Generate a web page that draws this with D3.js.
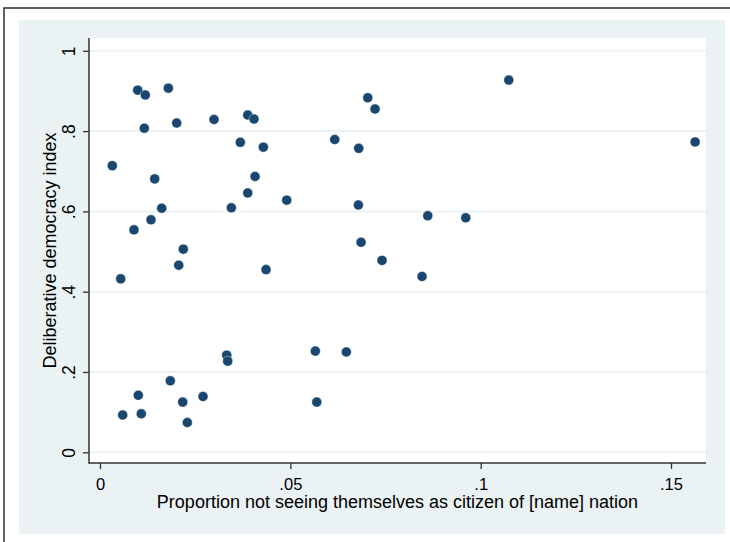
<!DOCTYPE html>
<html>
<head>
<meta charset="utf-8">
<script src="https://cdn.jsdelivr.net/npm/d3@7"></script>
<style>
  html, body { margin: 0; padding: 0; background: #ffffff; }
  svg { display: block; }
  text { font-family: "Liberation Sans", Arial, sans-serif; fill: #000; }
</style>
</head>
<body>
<svg id="chart" width="730" height="542"></svg>
<script>
// ---- data ----
const xValues = [0.00323, 0.00544, 0.00596, 0.00893, 0.00991, 0.01006, 0.01085, 0.01164, 0.01190, 0.01340,
  0.01437, 0.01621, 0.01795, 0.01847, 0.02015, 0.02068, 0.02173, 0.02189, 0.02294, 0.02706,
  0.02995, 0.03329, 0.03355, 0.03450, 0.03686, 0.03881, 0.03881, 0.04046, 0.04073, 0.04291,
  0.04362, 0.04905, 0.05657, 0.05694, 0.06167, 0.06471, 0.06797, 0.06787, 0.06858, 0.07034,
  0.07225, 0.07409, 0.08460, 0.08610, 0.09608, 0.10738, 0.15633];
const yValues = [0.714, 0.432, 0.093, 0.554, 0.902, 0.142, 0.096, 0.807, 0.890, 0.579,
  0.681, 0.608, 0.907, 0.178, 0.820, 0.466, 0.125, 0.506, 0.074, 0.139,
  0.829, 0.242, 0.227, 0.609, 0.772, 0.840, 0.646, 0.830, 0.687, 0.760,
  0.455, 0.628, 0.252, 0.125, 0.779, 0.250, 0.757, 0.616, 0.523, 0.883,
  0.855, 0.478, 0.438, 0.589, 0.584, 0.927, 0.773];
const xTicks = [0, 0.05, 0.1, 0.15];
const xTickLabels = ["0", ".05", ".1", ".15"];
const yTicks = [0, 0.2, 0.4, 0.6, 0.8, 1];
const yTickLabels = ["0", ".2", ".4", ".6", ".8", "1"];
const xTitle = "Proportion not seeing themselves as citizen of [name] nation";
const yTitle = "Deliberative democracy index";

// ---- layout ----
const svg = d3.select("#chart");
const plot = { left: 89, right: 706, top: 38, bottom: 463 };

// outer frame
svg.append("rect").attr("x", 4).attr("y", 8).attr("width", 760).attr("height", 580)
  .attr("fill", "#ffffff").attr("stroke", "#3a3a3a").attr("stroke-width", 1.6);
// graph region
svg.append("rect").attr("x", 19).attr("y", 20).attr("width", 706).attr("height", 514)
  .attr("fill", "#eaf2f3");
// plot region
svg.append("rect").attr("x", plot.left).attr("y", plot.top)
  .attr("width", plot.right - plot.left).attr("height", plot.bottom - plot.top)
  .attr("fill", "#ffffff");

const x = d3.scaleLinear().domain([0, 0.15]).range([100, 671]);
const y = d3.scaleLinear().domain([0, 1]).range([452.3, 50.8]);

// gridlines
svg.append("g").selectAll("line").data(yTicks).join("line")
  .attr("x1", plot.left).attr("x2", plot.right)
  .attr("y1", d => y(d)).attr("y2", d => y(d))
  .attr("stroke", "#eaf2f3").attr("stroke-width", 2);

// y axis
const yAxis = d3.axisLeft(y).tickValues(yTicks).tickSize(6)
  .tickFormat((d, i) => yTickLabels[i]);
const gy = svg.append("g").attr("transform", `translate(${plot.left},0)`).call(yAxis);
gy.select(".domain").remove();
gy.selectAll(".tick line").attr("stroke", "#333").attr("stroke-width", 1.3);
gy.selectAll(".tick text")
  .attr("x", null).attr("dy", null)
  .attr("transform", "translate(-14,0) rotate(-90)")
  .attr("text-anchor", "middle")
  .style("font-size", "17.5px").style("font-family", "Liberation Sans, Arial, sans-serif").attr("fill", "#000");

// x axis
const xAxis = d3.axisBottom(x).tickValues(xTicks).tickSize(6)
  .tickFormat((d, i) => xTickLabels[i]);
const gx = svg.append("g").attr("transform", `translate(0,${plot.bottom})`).call(xAxis);
gx.select(".domain").remove();
gx.selectAll(".tick line").attr("stroke", "#333").attr("stroke-width", 1.3);
gx.selectAll(".tick text")
  .attr("y", 27).attr("dy", null)
  .style("font-size", "16.5px").style("font-family", "Liberation Sans, Arial, sans-serif").attr("fill", "#000");

// axis lines
svg.append("line").attr("x1", plot.left).attr("x2", plot.left)
  .attr("y1", plot.top).attr("y2", plot.bottom + 0.7)
  .attr("stroke", "#333").attr("stroke-width", 1.5);
svg.append("line").attr("x1", plot.left).attr("x2", plot.right)
  .attr("y1", plot.bottom).attr("y2", plot.bottom)
  .attr("stroke", "#333").attr("stroke-width", 1.5);

// titles
svg.append("text").attr("x", (plot.left + plot.right) / 2).attr("y", 508)
  .attr("text-anchor", "middle").style("font-size", "18px").text(xTitle);
svg.append("text").attr("transform", `translate(55.5,${(plot.top + plot.bottom) / 2}) rotate(-90)`)
  .attr("text-anchor", "middle").style("font-size", "18px").text(yTitle);

// points
const pts = xValues.map((v, i) => ({ x: v, y: yValues[i] }));
svg.append("g").selectAll("circle").data(pts).join("circle")
  .attr("cx", d => x(d.x)).attr("cy", d => y(d.y)).attr("r", 5)
  .attr("fill", "#1a476f").attr("stroke", "#ffffff").attr("stroke-width", 0.4);
</script>
</body>
</html>
